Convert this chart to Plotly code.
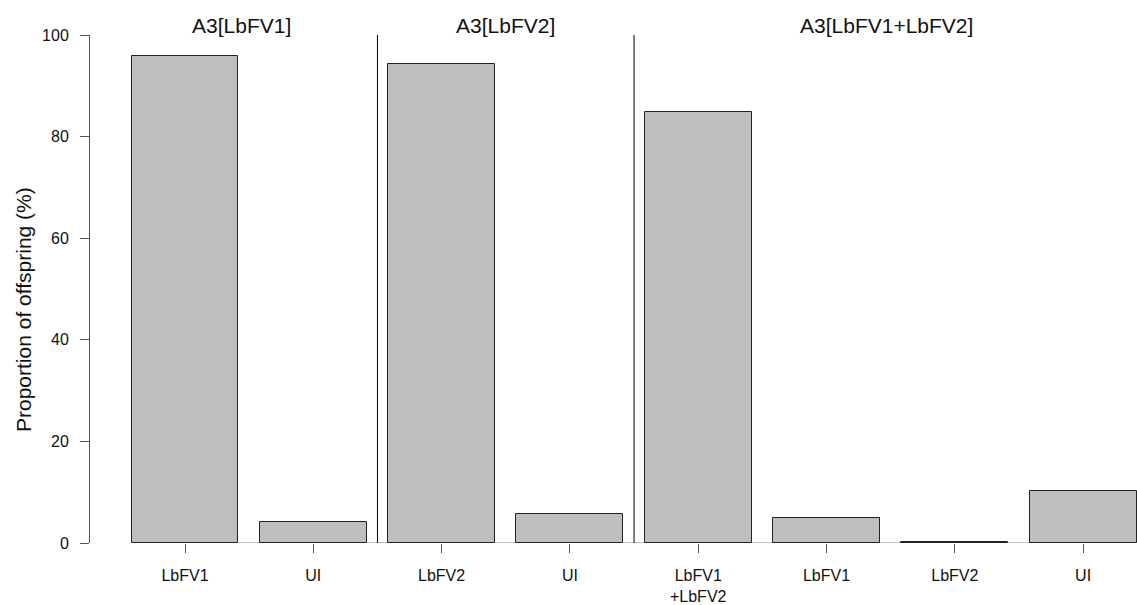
import plotly.graph_objects as go

categories = ["LbFV1", "UI", "LbFV2", "UI", "LbFV1<br>+LbFV2", "LbFV1", "LbFV2", "UI"]
values = [95.9, 4.1, 94.3, 5.8, 84.8, 4.9, 0.2, 10.2]
groups = ["A3[LbFV1]", "A3[LbFV2]", "A3[LbFV1+LbFV2]"]
group_sizes = [2, 2, 4]
y_ticks = [0, 20, 40, 60, 80, 100]

FONT = "Liberation Sans, Arial, sans-serif"
AX = "#555555"

xpos = list(range(len(categories)))
fig = go.Figure()
fig.add_trace(go.Bar(
    x=xpos, y=values, width=1 / 1.2,
    marker=dict(color="#BEBEBE", line=dict(color="#222222", width=1)),
    showlegend=False, hoverinfo="x+y",
))

shapes = []
# baseline
shapes.append(dict(type="line", xref="x", yref="y", x0=-0.4167, x1=7.5, y0=0, y1=0,
                   line=dict(color="#8a8a8a", width=1), layer="below"))
# group separators and titles
start = 0
title_x = [0.44, 2.5, 5.47]
for gi, (g, n) in enumerate(zip(groups, group_sizes)):
    end = start + n
    if gi < len(groups) - 1:
        shapes.append(dict(type="line", xref="x", yref="y", x0=end - 0.5, x1=end - 0.5,
                           y0=0, y1=100, line=dict(color="black", width=1)))
    fig.add_annotation(x=title_x[gi], y=100, xref="x", yref="y", text=g, showarrow=False,
                       yanchor="bottom", yshift=-4,
                       font=dict(family=FONT, size=21, color="#111111"))
    start = end

fig.add_annotation(xref="paper", yref="paper",
                   x=(24 - 90) / 1047, y=(543 - 310) / 508,
                   xanchor="center", yanchor="middle",
                   text="Proportion of offspring (%)",
                   showarrow=False, textangle=-90, font=dict(family=FONT, size=21, color="#111111"))

fig.update_layout(
    width=1137, height=605,
    margin=dict(l=90, r=0, t=35, b=62, pad=0),
    plot_bgcolor="white", paper_bgcolor="white",
    shapes=shapes,
    font=dict(family=FONT, size=16, color="#111111"),
    xaxis=dict(range=[-0.7405, 7.42], tickvals=xpos, ticktext=categories,
               showgrid=False, zeroline=False, showline=False,
               ticks="outside", ticklen=9, tickwidth=1, tickcolor=AX,
               tickfont=dict(family=FONT, size=16, color="#111111"),
               ticklabelstandoff=9),
    yaxis=dict(range=[0, 100], tickvals=y_ticks, showgrid=False, zeroline=False,
               showline=True, linecolor=AX, linewidth=1,
               ticks="outside", ticklen=9, tickwidth=1, tickcolor=AX,
               tickfont=dict(family=FONT, size=16, color="#111111"),
               ticklabelstandoff=8),
    bargap=0,
)

fig.write_html("out.html", config={"displayModeBar": False},
               post_script="document.body.style.margin='0';document.body.style.overflow='hidden';")
